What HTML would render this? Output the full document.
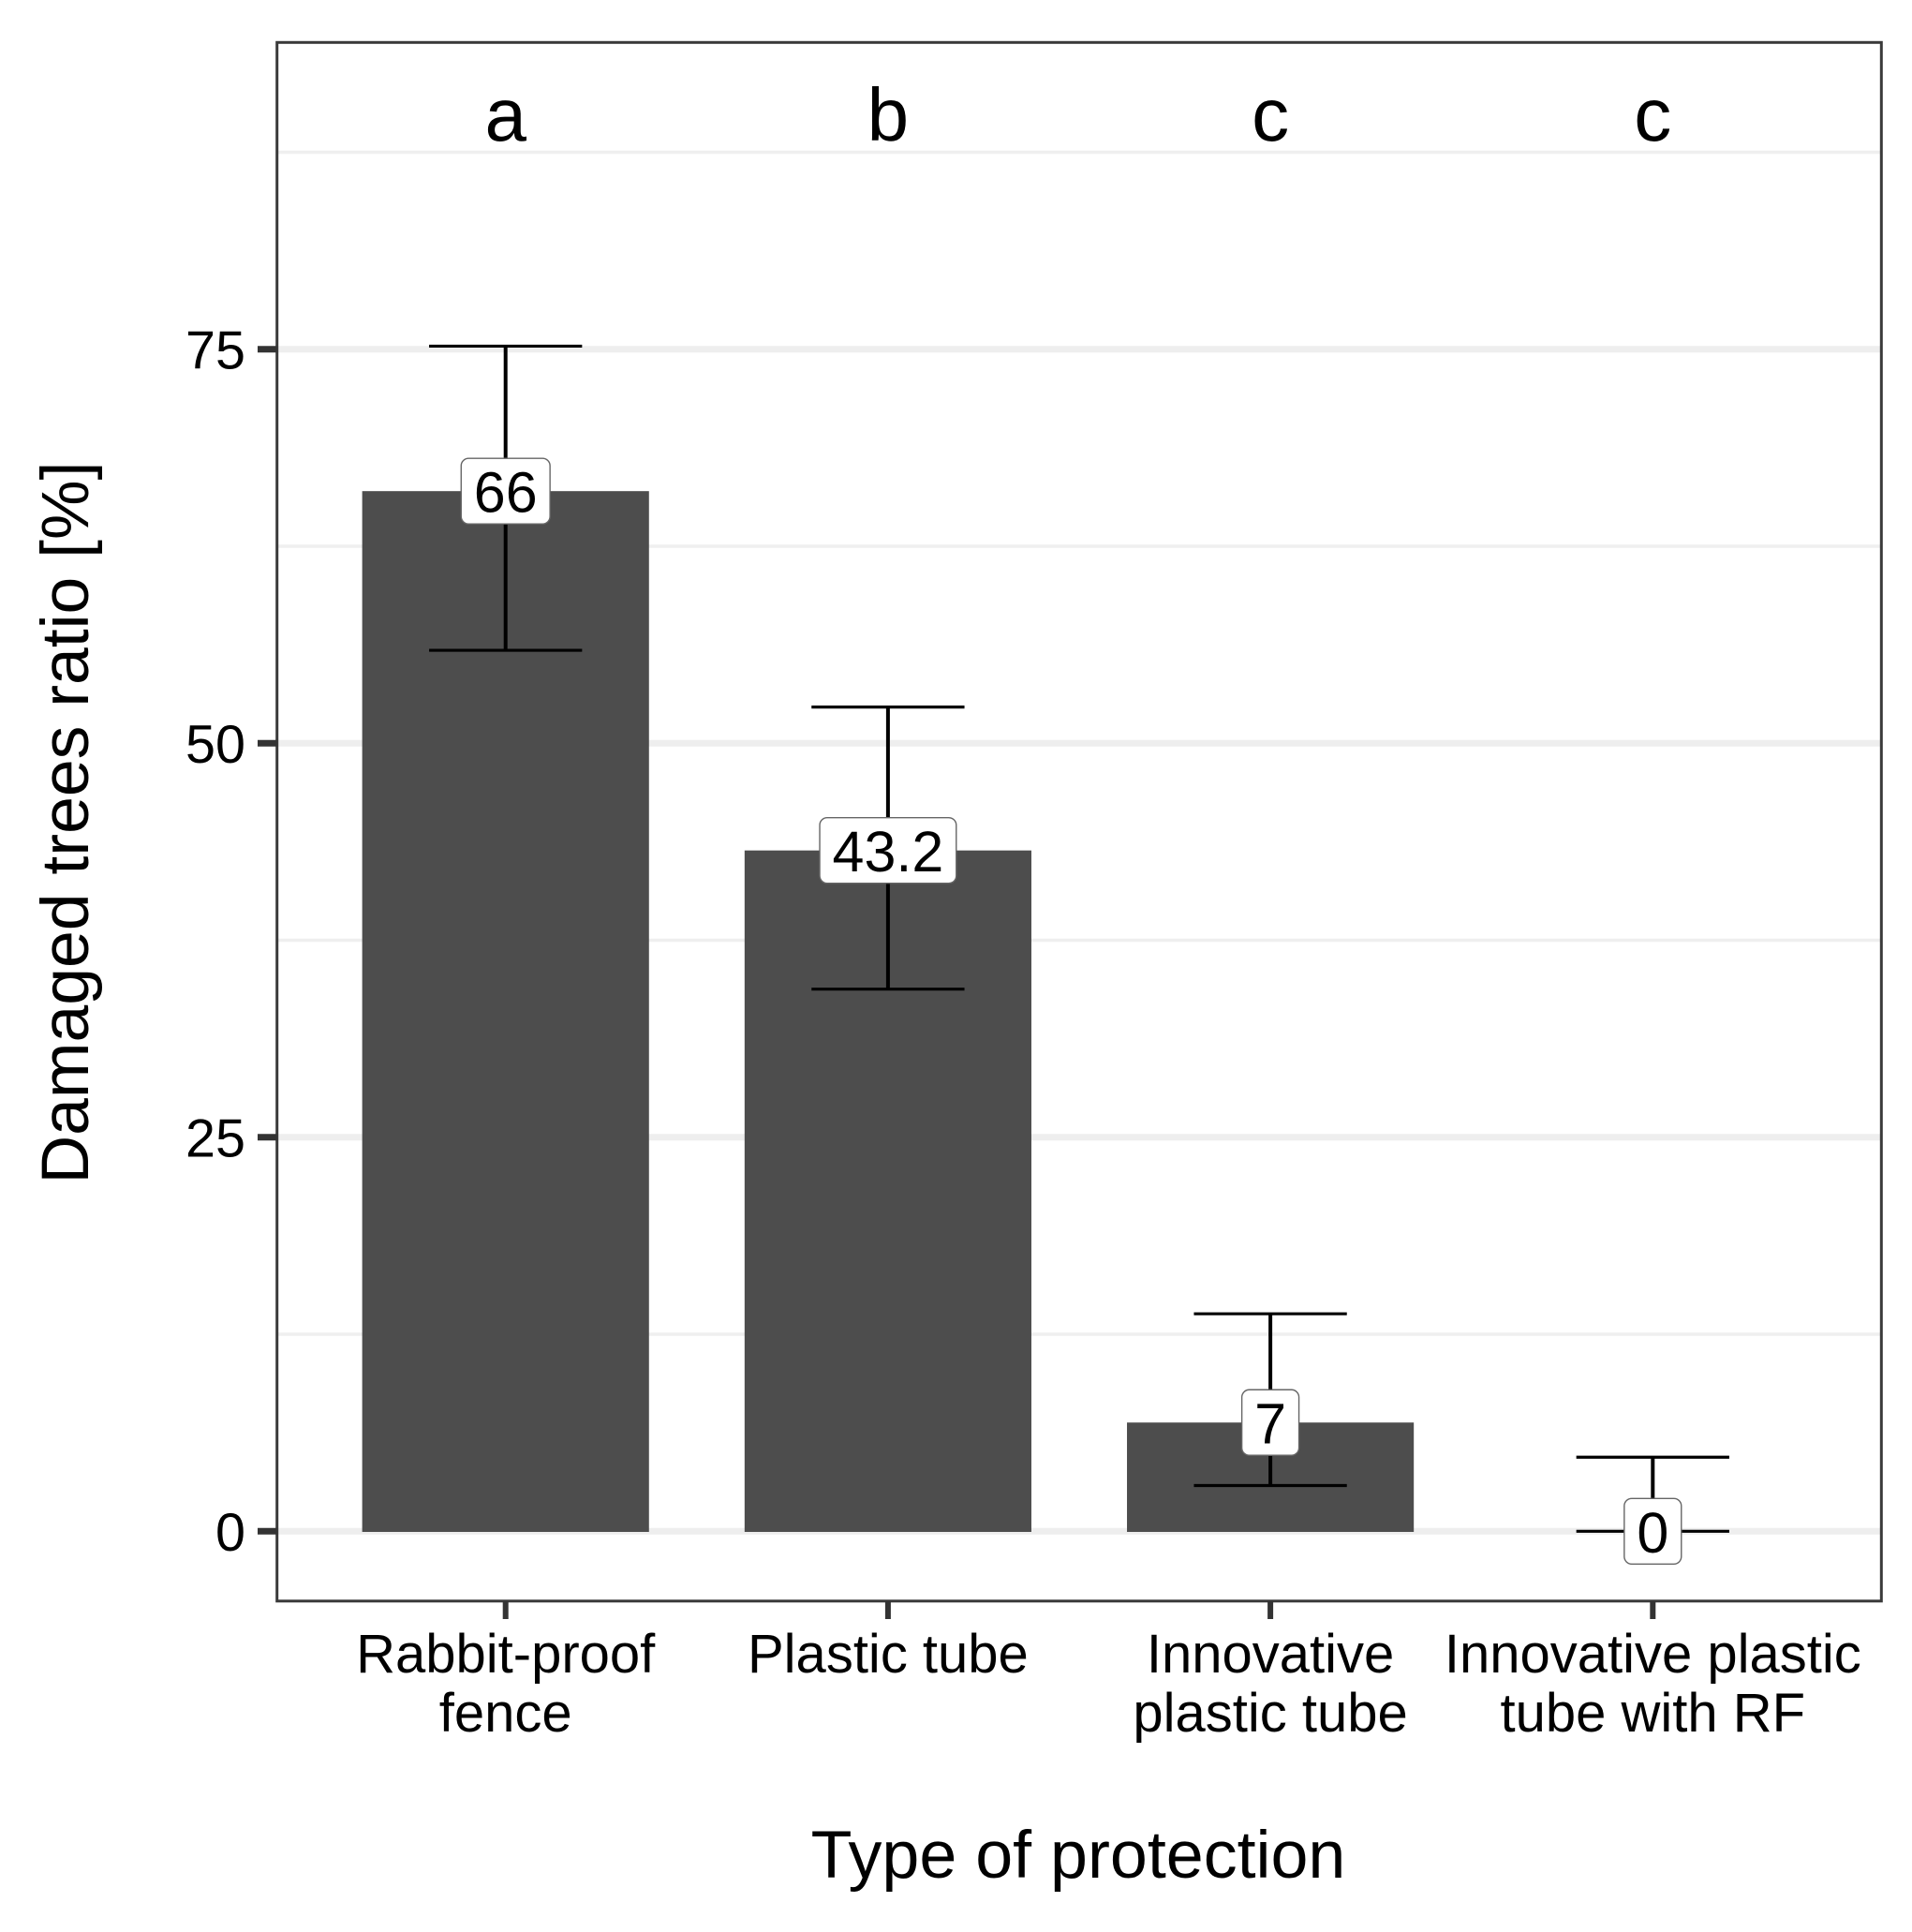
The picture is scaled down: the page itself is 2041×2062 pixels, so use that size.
<!DOCTYPE html>
<html lang="en">
<head>
<meta charset="utf-8">
<title>Damaged trees ratio by type of protection</title>
<style>
  html, body { margin: 0; padding: 0; background: #fff; }
  svg { display: block; font-family: "Liberation Sans", Arial, sans-serif; }
</style>
</head>
<body>
<svg id="chart" xmlns="http://www.w3.org/2000/svg" width="2041" height="2062" viewBox="0 0 2041 2062">
  <rect x="0" y="0" width="2041" height="2062" fill="#fff"/>
  <g id="grid"></g>
  <g id="bars"></g>
  <g id="errors"></g>
  <g id="labels"></g>
  <g id="letters"></g>
  <rect x="295.7" y="45.3" width="1712.6" height="1663.5" fill="none" stroke="#3a3a3a" stroke-width="3"/>
  <g id="y-axis"></g>
  <g id="x-axis"></g>
  <text transform="translate(94,878) rotate(-90)" text-anchor="middle" font-size="71.5" fill="#000">Damaged trees ratio [%]</text>
  <text x="1151" y="2004" text-anchor="middle" font-size="71.8" fill="#000">Type of protection</text>
</svg>
<script>
const categories = [
  ["Rabbit-proof", "fence"],
  ["Plastic tube"],
  ["Innovative", "plastic tube"],
  ["Innovative plastic", "tube with RF"]
];
const barValues = [66, 43.2, 6.9, 0];
const errorUpper = [75.2, 52.3, 13.8, 4.7];
const errorLower = [55.9, 34.4, 2.9, 0];
const valueLabels = ["66", "43.2", "7", "0"];
const letters = ["a", "b", "c", "c"];
const yTicks = [0, 25, 50, 75];
const yMinorGrid = [12.5, 37.5, 62.5, 87.5];

const NS = "http://www.w3.org/2000/svg";
const panel = { left: 295.7, right: 2008.3, top: 45.3, bottom: 1708.8 };
const Y_ZERO = 1634.3, Y_UNIT = 16.82;
const X_FIRST = 539.7, X_STEP = 408.2;
const BAR_HALF = X_STEP * 0.375, CAP_HALF = X_STEP * 0.2;

function xScale(i) { return X_FIRST + i * X_STEP; }
function yScale(v) { return Y_ZERO - v * Y_UNIT; }

function make(parent, tag, attrs, text) {
  const el = document.createElementNS(NS, tag);
  for (const k in attrs) el.setAttribute(k, attrs[k]);
  if (text !== undefined) el.textContent = text;
  parent.appendChild(el);
  return el;
}

const gridG = document.getElementById("grid");
const barsG = document.getElementById("bars");
const errorsG = document.getElementById("errors");
const labelsG = document.getElementById("labels");
const lettersG = document.getElementById("letters");
const yAxisG = document.getElementById("y-axis");
const xAxisG = document.getElementById("x-axis");

yMinorGrid.forEach(function (v) {
  const line = make(gridG, "line", { x1: panel.left, x2: panel.right, y1: yScale(v), y2: yScale(v), stroke: "#efefef", "stroke-width": 3.5 });
  
  
});

yTicks.forEach(function (v) {
  const line = make(gridG, "line", { x1: panel.left, x2: panel.right, y1: yScale(v), y2: yScale(v), stroke: "#eeeeee", "stroke-width": 7 });
  
  

  const tick = make(yAxisG, "line", { x1: 275, x2: panel.left, y1: yScale(v), y2: yScale(v), stroke: "#333", "stroke-width": 7 });
  
  

  const label = make(yAxisG, "text", { x: 262, y: yScale(v) + 20.5, "text-anchor": "end", "font-size": 57.5, fill: "#000" }, String(v));
  
  
});

barValues.forEach(function (v, i) {
  const cx = xScale(i);
  if (v > 0) {
    const bar = make(barsG, "rect", { x: cx - BAR_HALF, y: yScale(v), width: BAR_HALF * 2, height: yScale(0) - yScale(v) + 0.7, fill: "#4d4d4d" });
    
    
  }

  const stem = make(errorsG, "line", { x1: cx, x2: cx, y1: yScale(errorUpper[i]), y2: yScale(errorLower[i]), stroke: "#000", "stroke-width": 4 });
  
  

  const capTop = make(errorsG, "line", { x1: cx - CAP_HALF, x2: cx + CAP_HALF, y1: yScale(errorUpper[i]), y2: yScale(errorUpper[i]), stroke: "#000", "stroke-width": 3.2 });
  
  

  const capBottom = make(errorsG, "line", { x1: cx - CAP_HALF, x2: cx + CAP_HALF, y1: yScale(errorLower[i]), y2: yScale(errorLower[i]), stroke: "#000", "stroke-width": 3.2 });
  
  

  const text = valueLabels[i];
  const fontSize = 61;
  const valueText = make(labelsG, "text", { x: cx, y: yScale(v) + 22.5, "text-anchor": "middle", "font-size": fontSize, fill: "#000" }, text);
  
  
  const w = valueText.getComputedTextLength() + 27;
  const box = document.createElementNS(NS, "rect");
  box.setAttribute("x", cx - w / 2);
  box.setAttribute("y", yScale(v) - 35);
  box.setAttribute("width", w);
  box.setAttribute("height", 70);
  box.setAttribute("rx", 8);
  box.setAttribute("fill", "#fff");
  box.setAttribute("stroke", "#666");
  box.setAttribute("stroke-width", 1.4);
  
  
  labelsG.insertBefore(box, valueText);

  const letter = make(lettersG, "text", { x: cx, y: 150, "text-anchor": "middle", "font-size": 80, fill: "#000" }, letters[i]);
  
  

  const tick = make(xAxisG, "line", { x1: cx, x2: cx, y1: panel.bottom, y2: 1728, stroke: "#333", "stroke-width": 6 });
  
  

  categories[i].forEach(function (lineText, k) {
    const label = make(xAxisG, "text", { x: cx, y: 1785 + k * 63, "text-anchor": "middle", "font-size": 58, fill: "#000" }, lineText);
    
    
  });
});
</script>
</body>
</html>
